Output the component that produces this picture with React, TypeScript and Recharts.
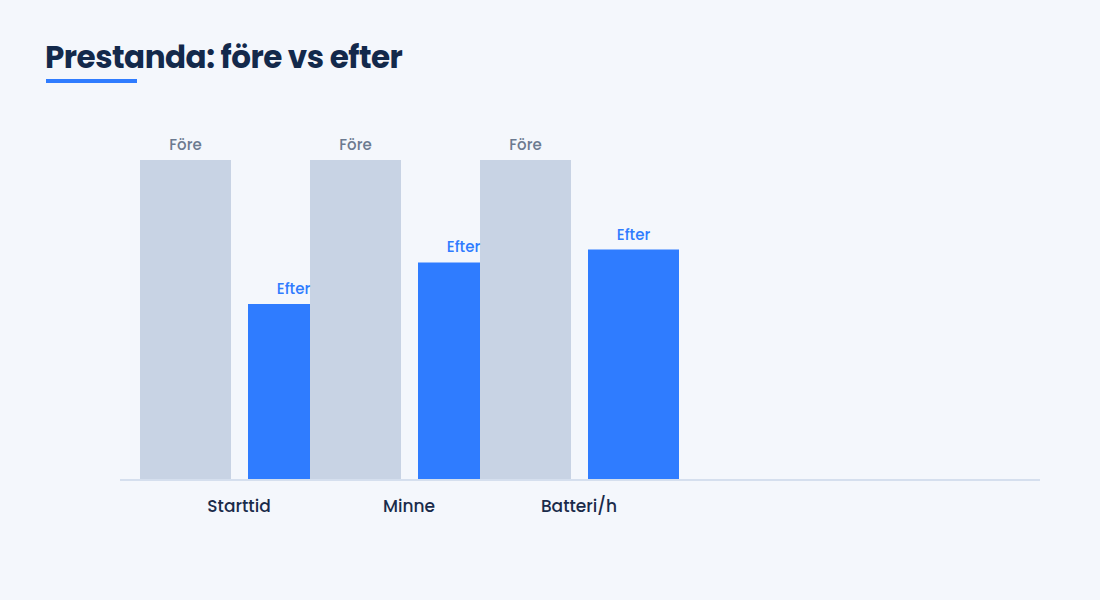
import { Bar, BarChart, LabelList, XAxis, YAxis } from 'recharts'

const categories = ['Starttid', 'Minne', 'Batteri/h']
const foreValues = [100, 100, 100]
const efterValues = [55, 68, 72]

const data = categories.map((name, i) => ({ name, fore: foreValues[i], efter: efterValues[i] }))

const FONT = 'Poppins, Inter, "Noto Sans", sans-serif'

export default function App() {
  return (
    <div style={{ position: 'fixed', left: 0, top: 0, width: 1100, height: 600, background: '#f4f7fc', fontFamily: FONT }}>
      <div style={{ position: 'absolute', left: 45, top: 34, fontSize: 31, fontWeight: 700, color: '#13294b', letterSpacing: -0.5 }}>
        Prestanda: före vs efter
      </div>
      <div style={{ position: 'absolute', left: 46, top: 79, width: 91, height: 4, background: '#2f7cff' }} />
      <BarChart width={1100} height={600} data={data} margin={{ top: 160, right: 60, bottom: 90, left: 120 }}>
        <YAxis hide domain={[0, 100]} />
        <XAxis
          xAxisId="cat"
          dataKey="name"
          padding={{ left: 34, right: 376 }}
          tickLine={false}
          axisLine={{ stroke: '#d5dfee', strokeWidth: 2 }}
          tick={{ fill: '#1a2b4a', fontSize: 17, fontWeight: 500 }}
          tickMargin={14}
        />
        <XAxis xAxisId="fore" dataKey="name" hide padding={{ left: -20, right: 430 }} />
        <XAxis xAxisId="efter" dataKey="name" hide padding={{ left: 88, right: 322 }} />
        <Bar xAxisId="efter" dataKey="efter" fill="#2f7cff" barSize={91} isAnimationActive={false}>
          <LabelList position="top" offset={10} formatter={() => 'Efter'} fill="#2f7cff" fontSize={15} fontWeight={500} />
        </Bar>
        <Bar xAxisId="fore" dataKey="fore" fill="#c8d3e4" barSize={91} isAnimationActive={false}>
          <LabelList position="top" offset={10} formatter={() => 'Före'} fill="#6b7a90" fontSize={15} fontWeight={500} />
        </Bar>
      </BarChart>
    </div>
  )
}
